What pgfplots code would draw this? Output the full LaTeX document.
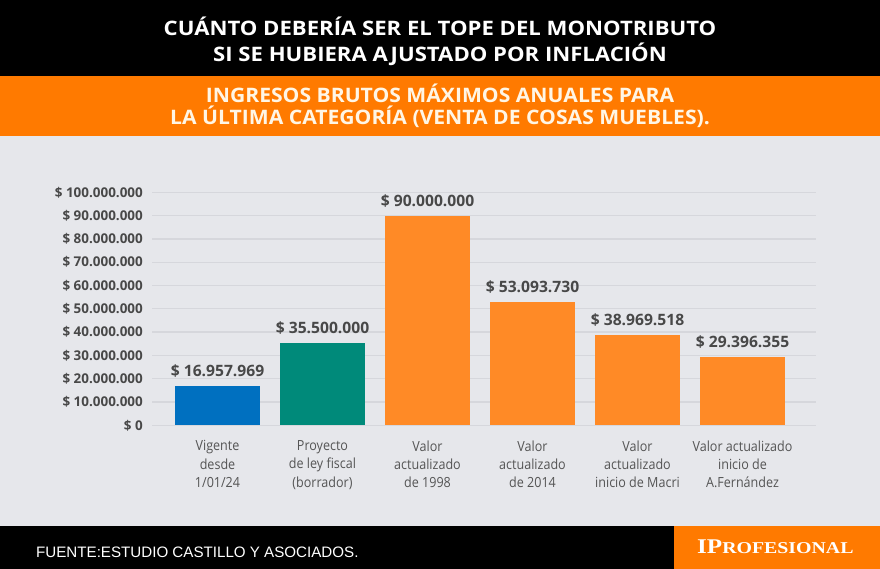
\documentclass[border=0pt]{standalone}
\usepackage{pgfplots}
\pgfplotsset{compat=1.18}
\usepackage{fontspec}
\setmainfont{Open Sans}
\newfontfamily\titlef[FakeStretch=1.11]{Open Sans}
\newfontfamily\subf[FakeStretch=1.06]{Open Sans}
\newfontfamily\labf[FakeStretch=0.9]{Open Sans}
\newfontfamily\footf{Liberation Sans}
\newfontfamily\logof[FakeStretch=1.2]{Liberation Serif}
\definecolor{bgc}{RGB}{230,231,235}
\definecolor{gridc}{RGB}{214,215,220}
\definecolor{topor}{RGB}{255,122,0}
\definecolor{logor}{RGB}{255,122,0}
\definecolor{subc}{RGB}{255,246,230}
\definecolor{bluec}{RGB}{0,112,192}
\definecolor{tealc}{RGB}{0,138,122}
\definecolor{orc}{RGB}{255,138,38}
\definecolor{txtc}{RGB}{72,72,72}
\definecolor{xlabc}{RGB}{85,85,85}
\begin{document}
\begin{tikzpicture}
\fill[bgc] (0,0) rectangle (880bp,-569bp);
\fill[black] (0,0) rectangle (880bp,-76bp);
\fill[topor] (0,-76bp) rectangle (880bp,-136bp);
\fill[black] (0,-526bp) rectangle (880bp,-569bp);
\fill[logor] (674bp,-526bp) rectangle (880bp,-569bp);
\node[white, font=\titlef\bfseries\fontsize{20}{26}\selectfont, align=center, inner sep=0pt]
  at (440bp,-41.5bp) {CUÁNTO DEBERÍA SER EL TOPE DEL MONOTRIBUTO\\SI SE HUBIERA AJUSTADO POR INFLACIÓN};
\node[subc, font=\subf\bfseries\fontsize{20}{21.5}\selectfont, align=center, inner sep=0pt]
  at (440bp,-106bp) {INGRESOS BRUTOS MÁXIMOS ANUALES PARA\\LA ÚLTIMA CATEGORÍA (VENTA DE COSAS MUEBLES).};
\node[white, font=\footf\fontsize{15.2}{15.2}\selectfont, anchor=base west, inner sep=0pt]
  at (36bp,-557bp) {FUENTE:ESTUDIO CASTILLO Y ASOCIADOS.};
\node[white, font=\logof\bfseries, anchor=base west, inner sep=0pt]
  at (697bp,-553bp) {\fontsize{21}{21}\selectfont IP\fontsize{16.6}{16.6}\selectfont ROFESIONAL};
\begin{axis}[
  at={(152bp,-425.3bp)}, anchor=south west,
  scale only axis, width=664bp, height=233bp,
  xmin=-0.624, xmax=5.70, ymin=0, ymax=100000000,
  axis line style={draw=none},
  major tick length=0pt,
  scaled y ticks=false,
  ymajorgrids, grid style={gridc, line width=1.3bp},
  ytick={0,10000000,20000000,30000000,40000000,50000000,60000000,70000000,80000000,90000000,100000000},
  yticklabels={\$ 0,\$ 10.000.000,\$ 20.000.000,\$ 30.000.000,\$ 40.000.000,\$ 50.000.000,\$ 60.000.000,\$ 70.000.000,\$ 80.000.000,\$ 90.000.000,\$ 100.000.000},
  yticklabel style={font=\bfseries\fontsize{13.5}{13.5}\selectfont, text=txtc, anchor=east, inner sep=0pt, xshift=-9bp},
  xtick={0,1,2,3,4,5},
  xticklabels={{Vigente\\desde\\1/01/24},{Proyecto\\de ley fiscal\\(borrador)},{Valor\\actualizado\\de 1998},{Valor\\actualizado\\de 2014},{Valor\\actualizado\\inicio de Macri},{Valor actualizado\\inicio de\\A.Fernández}},
  xticklabel style={font=\labf\fontsize{14}{18.5}\selectfont, text=xlabc, align=center, anchor=north, inner sep=0pt, yshift=-15bp},
  ybar, bar width=85bp, bar shift=0pt,
  point meta=explicit symbolic,
  nodes near coords,
  nodes near coords style={font=\bfseries\fontsize{15.7}{15.7}\selectfont, text=txtc, anchor=base, inner sep=0pt, yshift=9bp},
  clip=false,
]
\addplot[fill=bluec, draw=none] coordinates {(0,16957969) [\$ 16.957.969]};
\addplot[fill=tealc, draw=none] coordinates {(1,35500000) [\$ 35.500.000]};
\addplot[fill=orc, draw=none] coordinates {(2,90000000) [\$ 90.000.000]};
\addplot[fill=orc, draw=none] coordinates {(3,53093730) [\$ 53.093.730]};
\addplot[fill=orc, draw=none] coordinates {(4,38969518) [\$ 38.969.518]};
\addplot[fill=orc, draw=none] coordinates {(5,29396355) [\$ 29.396.355]};
\end{axis}
\end{tikzpicture}
\end{document}
